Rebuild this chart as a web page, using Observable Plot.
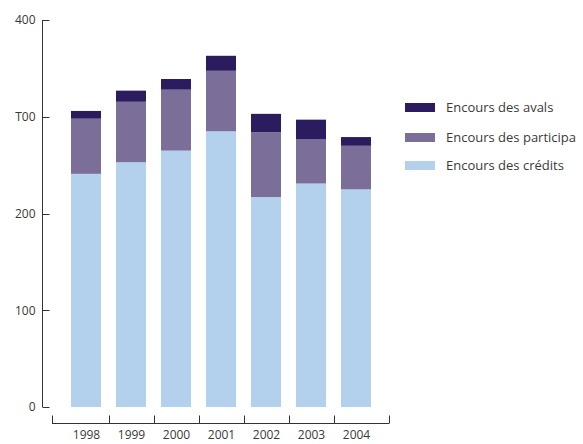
<!DOCTYPE html>
<html><head><meta charset="utf-8">
<script src="https://cdn.jsdelivr.net/npm/d3@7"></script>
<script src="https://cdn.jsdelivr.net/npm/@observablehq/plot@0.6"></script>
<style>
body{margin:0;background:#fff;font-family:"Open Sans",sans-serif;}
#wrap{position:relative;width:583px;height:444px;}
.item{position:absolute;left:405px;height:14px;display:flex;align-items:center;font-size:13px;color:#3a3a3a;white-space:nowrap;}
.sw{width:30px;height:9px;margin-right:11px;flex:none;}
</style></head><body><div id="wrap"></div><script>
const years = ["1998","1999","2000","2001","2002","2003","2004"];
const seriesNames = ["Encours des avals","Encours des participa","Encours des crédits"];
const seriesColors = ["#2b1b5f","#7b6e99","#b3d0ed"];
const credits = [241,253,265,285,217,231,225];
const particip = [57,62.5,63,62.5,67,46,45];
const avals = [8,11.5,11,15.5,19,20,9];
const yTicks = [0,100,200,300,400];
const yTickLabels = ["0","100","200","T00","400"];
const legendTops = [100,130,158];

const data = [];
years.forEach((yr,i)=>{
  data.push({year:yr, series:seriesNames[2], value:credits[i]});
  data.push({year:yr, series:seriesNames[1], value:particip[i]});
  data.push({year:yr, series:seriesNames[0], value:avals[i]});
});

const plot = Plot.plot({
  width:583, height:444,
  marginTop:20, marginBottom:37, marginLeft:52, marginRight:194,
  style:{fontFamily:"'Open Sans', sans-serif", fontSize:"12px", color:"#3a3a3a", background:"white"},
  x:{domain:years, paddingInner:0.338, paddingOuter:0.386, axis:null},
  y:{domain:[0,400], axis:null},
  color:{domain:seriesNames, range:seriesColors},
  marks:[
    Plot.barY(data,{x:"year", y:"value", fill:"series", z:"series",
      order:[seriesNames[2],seriesNames[1],seriesNames[0]]}),
    Plot.axisY(yTicks,{tickFormat:d=>yTickLabels[yTicks.indexOf(d)], tickSize:0, tickPadding:17, label:null, fill:"#3a3a3a"}),
    Plot.axisX({tickSize:0, tickPadding:23, label:null, fill:"#3a3a3a"})
  ]
});

const wrap = document.getElementById("wrap");
wrap.appendChild(plot);

const xs = plot.scale("x"), ys = plot.scale("y");
const svg = d3.select(plot);
const g = svg.append("g").attr("stroke","#333").attr("stroke-width",1).attr("fill","none");
const yx = 42.5;
g.append("line").attr("x1",yx).attr("x2",yx).attr("y1",ys.apply(400)).attr("y2",ys.apply(0));
yTicks.forEach(t=>{
  const y = Math.round(ys.apply(t))+0.5;
  g.append("line").attr("x1",yx).attr("x2",yx+7).attr("y1",y).attr("y2",y);
});
const [r0,r1] = xs.range;
const ay = 423.5;
g.append("line").attr("x1",r0).attr("x2",r1).attr("y1",ay).attr("y2",ay);
const bw = xs.bandwidth, step = xs.step;
const bounds = [r0];
years.slice(1).forEach(yr=>bounds.push(xs.apply(yr) - (step-bw)/2));
bounds.push(r1);
bounds.forEach(b=>{
  const x = Math.round(b)+0.5;
  g.append("line").attr("x1",x).attr("x2",x).attr("y1",ay-8).attr("y2",ay);
});

seriesNames.forEach((s,i)=>{
  const d = document.createElement("div");
  d.className="item";
  d.style.top = legendTops[i]+"px";
  d.innerHTML = `<span class="sw" style="background:${seriesColors[i]}"></span><span>${s}</span>`;
  wrap.appendChild(d);
});
</script></body></html>
